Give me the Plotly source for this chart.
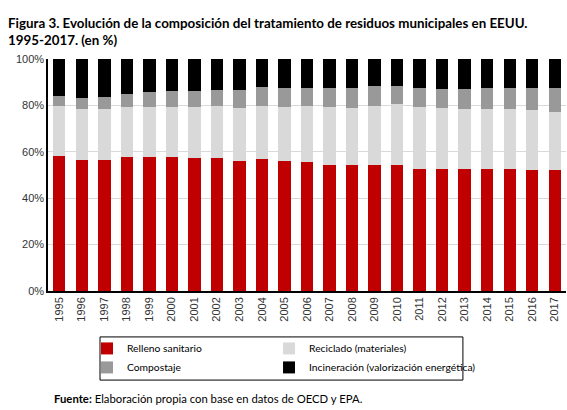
import plotly.graph_objects as go

years = [str(y) for y in range(1995, 2018)]
relleno = [58.1, 56.4, 56.4, 57.7, 57.7, 57.7, 57.3, 57.3, 56.0, 56.8, 56.0, 55.5,
           54.2, 54.2, 54.2, 54.2, 52.5, 52.5, 52.5, 52.5, 52.5, 52.1, 52.1]
reciclado = [21.6, 22.0, 22.0, 21.6, 21.6, 21.6, 22.0, 22.4, 22.8, 22.9, 23.3, 24.2,
             25.1, 24.6, 25.5, 26.4, 26.8, 26.3, 25.9, 25.9, 25.9, 25.9, 25.0]
compostaje = [4.3, 4.8, 5.2, 5.6, 6.5, 6.9, 6.9, 6.9, 7.8, 8.2, 8.2, 7.8,
              8.2, 8.7, 8.6, 7.7, 8.2, 8.3, 8.7, 9.1, 9.1, 9.5, 10.4]
incineracion = [16.0, 16.8, 16.4, 15.1, 14.2, 13.8, 13.8, 13.4, 13.4, 12.1, 12.5, 12.5,
                12.5, 12.5, 11.7, 11.7, 12.5, 12.9, 12.9, 12.5, 12.5, 12.5, 12.5]

series = [
    ("Relleno sanitario", relleno, "#C00000", "legend"),
    ("Reciclado (materiales)", reciclado, "#D9D9D9", "legend2"),
    ("Compostaje", compostaje, "#999999", "legend"),
    ("Incineración (valorización energética)", incineracion, "#000000", "legend2"),
]

fig = go.Figure()
for name, vals, col, lg in series:
    fig.add_trace(go.Bar(x=years, y=vals, name=name, legend=lg,
                         marker=dict(color=col, line=dict(width=0))))

font_main = "Lato, Calibri, Carlito, sans-serif"
tick_font = dict(family="Liberation Sans, Arial, sans-serif", size=11, color="#333")
legend_common = dict(
    orientation="v", xanchor="left", yanchor="top", y=-0.185,
    bgcolor="rgba(0,0,0,0)", borderwidth=0,
    font=dict(family=font_main, size=10.3, color="#000"),
    itemwidth=30, tracegroupgap=0, traceorder="normal",
)
fig.update_layout(
    barmode="stack",
    bargap=0.45,
    width=567, height=410,
    margin=dict(l=48, r=1, t=59, b=119),
    paper_bgcolor="white", plot_bgcolor="white",
    font=dict(family=font_main, size=12, color="#000"),
    showlegend=True,
    legend=dict(x=0.0753, **legend_common),
    legend2=dict(x=0.4267, **legend_common),
    xaxis=dict(
        tickangle=-90, showline=True, linecolor="#000", linewidth=1.5,
        tickfont=tick_font, ticks="", showgrid=False,
    ),
    yaxis=dict(
        range=[0, 100], dtick=20, ticksuffix="%", showline=True, linecolor="#000", linewidth=1.5,
        gridcolor="#D9D9D9", gridwidth=1, tickfont=tick_font, ticks="",
    ),
    shapes=[
        dict(type="rect", xref="paper", yref="paper", x0=0.1004, x1=0.801, y0=-0.198, y1=-0.384,
             line=dict(color="#000", width=1), fillcolor="rgba(0,0,0,0)", layer="above"),
    ],
    annotations=[
        dict(text="<b>Figura 3. Evolución de la composición del tratamiento de residuos municipales en EEUU.</b><br><b>1995-2017. (en %)</b>",
             xref="paper", yref="paper", x=-0.081, y=1.0, xanchor="left", yanchor="bottom",
             yshift=9, align="left", showarrow=False,
             font=dict(family=font_main, size=13.35, color="#000")),
        dict(text="<b>Fuente:</b> Elaboración propia con base en datos de OECD y EPA.",
             xref="paper", yref="paper", x=0.008, y=-0.463, xanchor="left", yanchor="middle",
             showarrow=False, align="left",
             font=dict(family=font_main, size=11.3, color="#000")),
    ],
)

fig.write_html("out.html", config={"displayModeBar": False},
               post_script="document.body.style.margin='0';document.body.style.overflow='hidden';")
